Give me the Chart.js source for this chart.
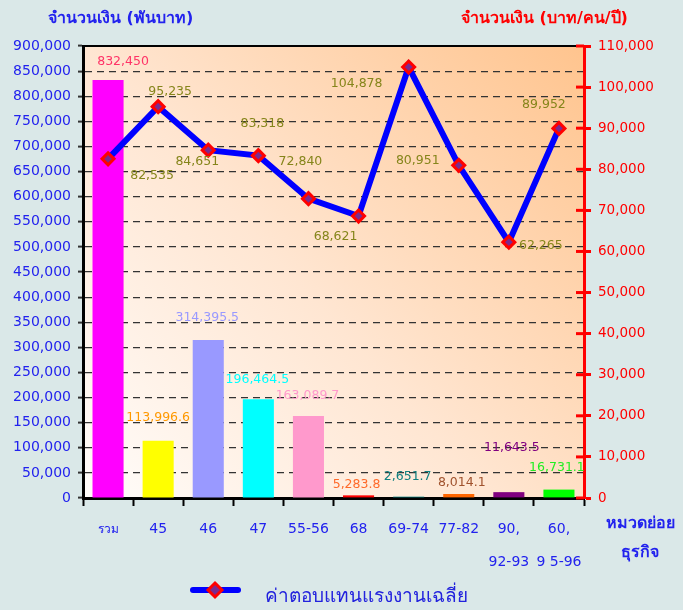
<!DOCTYPE html>
<html>
<head>
<meta charset="utf-8">
<script src="https://cdn.jsdelivr.net/npm/chart.js@4.4.1/dist/chart.umd.min.js"></script>
<style>
  html, body { margin: 0; padding: 0; background: #DAE8E8; }
  #wrap { width: 683px; height: 610px; }
</style>
</head>
<body>
<div id="wrap"><canvas id="chartjs" width="683" height="610"></canvas></div>
<script>
  // data
  const categories = ['รวม', '45', '46', '47', '55-56', '68', '69-74', '77-82', ['90,', '92-93'], ['60,', '9 5-96']];
  const totalPay = [832450, 113996.6, 314395.5, 196464.5, 163089.7, 5283.8, 2651.7, 8014.1, 11643.5, 16731.1];
  const avgPay = [82535, 95235, 84651, 83318, 72840, 68621, 104878, 80951, 62265, 89952];
  const leftMax = 900000, leftStep = 50000;
  const rightMax = 110000, rightStep = 10000;
  const leftTitle = 'จำนวนเงิน (พันบาท)';
  const rightTitle = 'จำนวนเงิน (บาท/คน/ปี)';
  const xTitle = ['หมวดย่อย', 'ธุรกิจ'];
  const lineName = 'ค่าตอบแทนแรงงานเฉลี่ย';

  const barColors = ['#FF00FF', '#FFFF00', '#9999FF', '#00FFFF', '#FF99CC', '#FF0000', '#008080', '#FF6600', '#800080', '#00FF00'];
  const barLabelColors = ['#FF3366', '#FF9900', '#9999FF', '#00FFFF', '#FF99CC', '#FF6A2A', '#108080', '#A0522D', '#800080', '#22EE22'];
  // label offsets (px) from the bar top / point, as placed in the original
  const barLabelOff = [[15, -18], [0, -23], [-1, -22], [-1, -20], [-1, -20], [-2, -11], [-1, -20], [3, -11], [3, -44], [-2, -22]];
  const lineLabelOff = [[44, 17], [12, -15], [-11, 12], [4, -32], [-8, -37], [-23, 21], [-52, 17], [-41, -5], [32, 4], [-15, -24]];

  const FONT = "'DejaVu Sans', 'Noto Sans', sans-serif";
  const fmt = function (v) {
    return Number.isInteger(v) ? v.toLocaleString('en-US') : v.toLocaleString('en-US', { minimumFractionDigits: 1 });
  };

  function drawDiamond(c, x, y, r) {
    c.beginPath(); c.moveTo(x, y - r); c.lineTo(x + r, y); c.lineTo(x, y + r); c.lineTo(x - r, y); c.closePath();
    c.fillStyle = '#7B2A8F'; c.fill();
    c.strokeStyle = '#FF0000'; c.lineWidth = 3; c.stroke();
  }

  const decor = {
    id: 'decor',
    beforeDraw(chart) {
      const ctx = chart.ctx, a = chart.chartArea;
      ctx.save();
      ctx.fillStyle = '#DAE8E8';
      ctx.fillRect(0, 0, chart.width, chart.height);
      const g = ctx.createLinearGradient(a.left, a.bottom, a.right, a.top);
      g.addColorStop(0, '#FFFDFB');
      g.addColorStop(0.45, '#FFE6D2');
      g.addColorStop(1, '#FFC48E');
      ctx.fillStyle = g;
      ctx.fillRect(a.left, a.top, a.right - a.left, a.bottom - a.top);
      ctx.restore();
    },
    afterDraw(chart) {
      const ctx = chart.ctx, a = chart.chartArea;
      const yR = chart.scales.y1;
      ctx.save();
      // top border
      ctx.strokeStyle = '#000'; ctx.lineWidth = 2;
      ctx.beginPath(); ctx.moveTo(a.left, a.top); ctx.lineTo(a.right, a.top); ctx.stroke();
      // inward stubs of the right axis ticks
      ctx.strokeStyle = '#FF0000'; ctx.lineWidth = 3;
      yR.ticks.forEach(function (t, i) {
        const y = yR.getPixelForTick(i);
        ctx.beginPath(); ctx.moveTo(a.right - 8, y); ctx.lineTo(a.right, y); ctx.stroke();
      });
      // axis titles
      ctx.font = 'bold 16px ' + FONT;
      ctx.textBaseline = 'middle';
      ctx.textAlign = 'left';
      ctx.fillStyle = '#2222EE';
      ctx.fillText(leftTitle, 48, 19);
      ctx.fillStyle = '#FF0000';
      ctx.fillText(rightTitle, 461, 19);
      ctx.fillStyle = '#2222EE';
      ctx.textAlign = 'center';
      ctx.fillText(xTitle[0], 640, 524);
      ctx.fillText(xTitle[1], 640, 553);
      // legend
      ctx.strokeStyle = '#0000FF'; ctx.lineWidth = 6; ctx.lineCap = 'round';
      ctx.beginPath(); ctx.moveTo(193, 590); ctx.lineTo(238, 590); ctx.stroke();
      ctx.lineCap = 'butt';
      drawDiamond(ctx, 215, 590, 7);
      ctx.font = '19px ' + FONT;
      ctx.fillStyle = '#2222DD';
      ctx.textAlign = 'left';
      ctx.fillText(lineName, 265, 597);
      ctx.restore();
    },
    afterDatasetsDraw(chart) {
      const ctx = chart.ctx;
      ctx.save();
      ctx.font = '12.5px ' + FONT;
      ctx.textAlign = 'center';
      ctx.textBaseline = 'middle';
      chart.getDatasetMeta(0).data.forEach(function (el, i) {
        ctx.fillStyle = barLabelColors[i];
        ctx.fillText(fmt(totalPay[i]), el.x + barLabelOff[i][0], el.y + barLabelOff[i][1]);
      });
      ctx.fillStyle = '#85851A';
      chart.getDatasetMeta(1).data.forEach(function (el, i) {
        ctx.fillText(fmt(avgPay[i]), el.x + lineLabelOff[i][0], el.y + lineLabelOff[i][1]);
      });
      ctx.restore();
    }
  };

  const ctx = document.getElementById('chartjs');
  new Chart(ctx, {
    type: 'bar',
    data: {
      labels: categories,
      datasets: [{
        type: 'bar',
        label: 'มูลค่า',
        data: totalPay,
        backgroundColor: barColors,
        borderWidth: 0,
        barPercentage: 0.62,
        categoryPercentage: 1,
        yAxisID: 'y',
        order: 1
      }, {
        type: 'line',
        label: lineName,
        data: avgPay,
        borderColor: '#0000FF',
        borderWidth: 6,
        pointStyle: 'rectRot',
        pointRadius: 6,
        pointBackgroundColor: '#7B2A8F',
        pointBorderColor: '#FF0000',
        pointBorderWidth: 3,
        tension: 0,
        yAxisID: 'y1',
        order: 0
      }]
    },
    plugins: [decor],
    options: {
      responsive: false,
      animation: false,
      layout: { padding: { top: 46, left: 0, right: 0, bottom: 0 } },
      scales: {
        x: {
          offset: true,
          grid: { offset: true, drawOnChartArea: false, drawTicks: true, tickLength: 8, tickColor: '#000', tickWidth: 2 },
          border: { color: '#000', width: 3 },
          ticks: {
            color: '#2222EE',
            padding: 7,
            maxRotation: 0,
            autoSkip: false,
            font: function (c) {
              return c.index === 0 ? { family: FONT, size: 12, lineHeight: '33px' } : { family: FONT, size: 14, lineHeight: '33px' };
            }
          },
          afterFit: function (s) { s.height = 112; }
        },
        y: {
          position: 'left',
          min: 0, max: leftMax,
          ticks: { stepSize: leftStep, color: '#2222EE', padding: 7, font: { family: FONT, size: 14 }, callback: function (v) { return v.toLocaleString('en-US'); } },
          grid: {
            color: function (c) { return (c.tick.value === 0 || c.tick.value === leftMax) ? 'rgba(0,0,0,0)' : '#333'; },
            lineWidth: 1.2,
            tickLength: 5, tickColor: '#333', tickWidth: 2, tickBorderDash: [],
          },
          border: { color: '#000', width: 3, dash: [7, 5] },
          afterFit: function (s) { s.width = 83; }
        },
        y1: {
          position: 'right',
          min: 0, max: rightMax,
          ticks: { stepSize: rightStep, color: '#FF0000', padding: 7, font: { family: FONT, size: 13.5 }, callback: function (v) { return v.toLocaleString('en-US'); } },
          grid: { drawOnChartArea: false, tickLength: 7, tickColor: '#FF0000', tickWidth: 3 },
          border: { color: '#FF0000', width: 3 },
          afterFit: function (s) { s.width = 99; }
        }
      },
      plugins: {
        tooltip: { enabled: false },
        legend: { display: false }
      }
    }
  });
</script>
</body>
</html>
